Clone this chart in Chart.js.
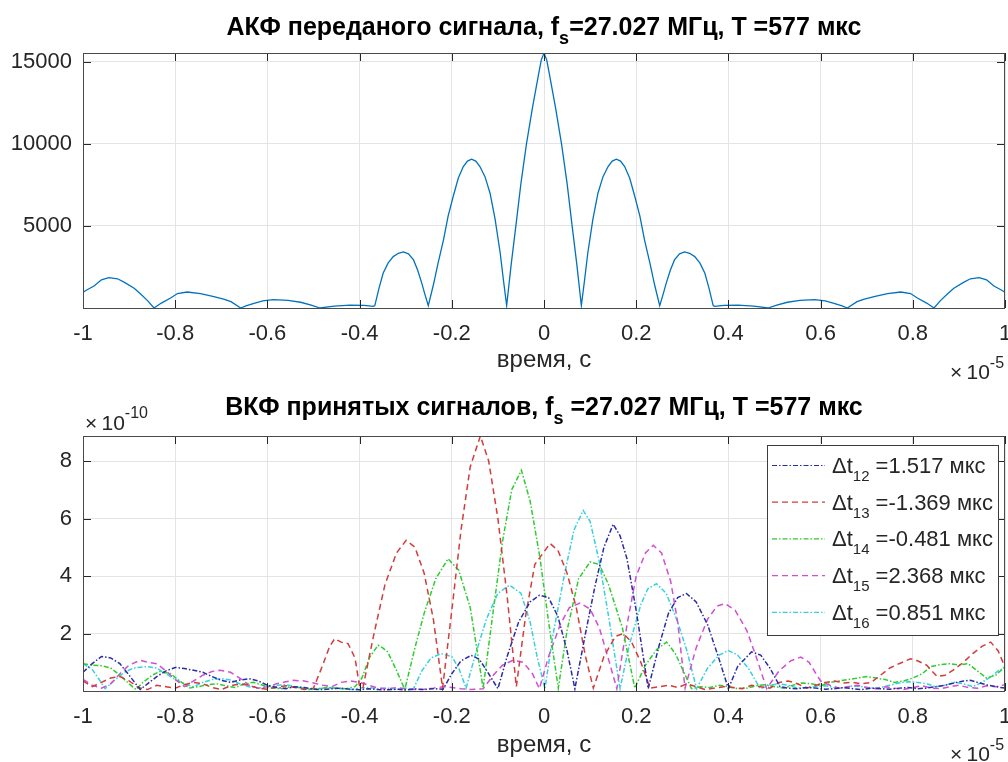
<!DOCTYPE html>
<html><head><meta charset="utf-8">
<script src="https://cdn.jsdelivr.net/npm/chart.js@4.4.1/dist/chart.umd.min.js"></script>
<style>
html,body{margin:0;padding:0;background:#fff;}
#wrap{position:relative;width:1008px;height:762px;overflow:hidden;background:#fff;}
canvas{position:absolute;left:0;}
</style></head><body>
<div id="wrap">
<canvas id="c1" width="1008" height="380" style="top:0"></canvas>
<canvas id="c2" width="1008" height="382" style="top:380px"></canvas>
</div>
<script>
// ---------- data (x in units of 1e-5 s) ----------
const xTickValues = [-1,-0.8,-0.6,-0.4,-0.2,0,0.2,0.4,0.6,0.8,1];
const xTickLabels = ['-1','-0.8','-0.6','-0.4','-0.2','0','0.2','0.4','0.6','0.8','1'];
const y1TickValues = [5000,10000,15000];
const y1TickLabels = ['5000','10000','15000'];
const y2TickValues = [2,4,6,8];            // units of 1e-10
const y2TickLabels = ['2','4','6','8'];

// АКФ (top)
const acfPts = [
[-1,957],[-0.99,1130],[-0.976,1340],[-0.96,1720],[-0.944,1850],[-0.925,1780],[-0.91,1560],[-0.889,1200],[-0.875,850],[-0.86,450],[-0.846,0],
[-0.83,300],[-0.81,610],[-0.795,880],[-0.774,975],[-0.745,870],[-0.716,690],[-0.695,540],[-0.679,385],[-0.658,0],
[-0.645,150],[-0.629,285],[-0.61,430],[-0.587,510],[-0.555,470],[-0.528,350],[-0.505,180],[-0.486,0],
[-0.455,120],[-0.421,180],[-0.39,160],[-0.37,100],[-0.367,150],[-0.358,1200],[-0.349,2115],[-0.338,2750],[-0.327,3130],[-0.316,3330],
[-0.305,3415],[-0.294,3300],[-0.283,2930],[-0.274,2300],[-0.265,1500],[-0.258,800],[-0.251,140],
[-0.24,1400],[-0.23,2700],[-0.218,4150],[-0.208,5600],[-0.197,6790],[-0.186,7900],[-0.175,8615],[-0.166,8950],[-0.157,9065],
[-0.148,8950],[-0.139,8615],[-0.128,8000],[-0.117,6990],[-0.106,5400],[-0.095,3350],[-0.088,1700],[-0.081,150],
[-0.071,2700],[-0.061,5000],[-0.05,7600],[-0.038,10000],[-0.025,12200],[-0.012,14200],[-0.006,15100],[0,15530],
[0.006,15100],[0.012,14200],[0.025,12200],[0.038,10000],[0.05,7600],[0.061,5000],[0.071,2700],[0.081,150],
[0.088,1700],[0.095,3350],[0.106,5400],[0.117,6990],[0.128,8000],[0.139,8615],[0.148,8950],[0.157,9065],[0.166,8950],
[0.175,8615],[0.186,7900],[0.197,6790],[0.208,5600],[0.218,4150],[0.23,2700],[0.24,1400],[0.251,140],
[0.258,800],[0.265,1500],[0.274,2300],[0.283,2930],[0.294,3300],[0.305,3415],[0.316,3330],[0.327,3130],[0.338,2750],
[0.349,2115],[0.358,1200],[0.367,150],[0.37,100],[0.39,160],[0.421,180],[0.455,120],[0.486,0],
[0.505,180],[0.528,350],[0.555,470],[0.587,510],[0.61,430],[0.629,285],[0.645,150],[0.658,0],
[0.679,385],[0.695,540],[0.716,690],[0.745,870],[0.774,975],[0.795,880],[0.81,610],[0.83,300],[0.846,0],
[0.86,450],[0.875,850],[0.889,1200],[0.91,1560],[0.925,1780],[0.944,1850],[0.96,1720],[0.976,1340],[0.99,1130],[1,957]];

// ВКФ (bottom), values in units of 1e-10
const t12Pts = [
[-1,0.65],[-0.98,0.95],[-0.96,1.20],[-0.94,1.15],[-0.92,0.95],[-0.9,0.55],[-0.876,0.05],[-0.86,0.25],[-0.84,0.50],[-0.82,0.70],
[-0.8,0.82],[-0.78,0.78],[-0.76,0.72],[-0.74,0.65],[-0.72,0.50],[-0.7,0.37],[-0.68,0.30],[-0.66,0.38],[-0.64,0.43],[-0.62,0.35],
[-0.6,0.20],[-0.58,0.12],[-0.56,0.08],[-0.54,0.15],[-0.52,0.12],[-0.5,0.06],[-0.48,0.05],[-0.46,0.08],[-0.44,0.10],[-0.42,0.06],
[-0.4,0.04],[-0.38,0.08],[-0.36,0.05],[-0.34,0.04],[-0.32,0.06],[-0.3,0.04],[-0.28,0.07],[-0.26,0.05],[-0.24,0.08],[-0.219,0.06],
[-0.2,0.60],[-0.18,1.05],[-0.158,1.24],[-0.14,1.10],[-0.12,0.60],[-0.1,0.08],[-0.08,1.20],[-0.055,2.40],[-0.03,3.10],[-0.01,3.33],
[0.01,3.25],[0.03,2.60],[0.05,1.40],[0.067,0.08],[0.09,2.00],[0.11,3.60],[0.13,5.00],[0.15,5.80],[0.165,5.40],[0.18,4.60],
[0.2,2.80],[0.226,0.08],[0.25,1.60],[0.27,2.70],[0.29,3.25],[0.309,3.39],[0.33,3.10],[0.355,2.30],[0.38,1.10],[0.4,0.08],
[0.42,0.85],[0.45,1.36],[0.47,1.25],[0.49,0.80],[0.512,0.15],[0.53,0.10],[0.55,0.08],[0.57,0.12],[0.59,0.10],[0.61,0.06],
[0.63,0.08],[0.65,0.12],[0.67,0.08],[0.69,0.05],[0.71,0.10],[0.73,0.08],[0.75,0.06],[0.77,0.10],[0.79,0.12],[0.81,0.08],
[0.83,0.10],[0.85,0.15],[0.87,0.20],[0.89,0.28],[0.91,0.35],[0.925,0.37],[0.94,0.30],[0.96,0.22],[0.98,0.15],[1,0.10]];

const t13Pts = [
[-1,0.35],[-0.98,0.15],[-0.96,0.30],[-0.94,0.45],[-0.92,0.50],[-0.9,0.35],[-0.88,0.12],[-0.86,0.05],[-0.84,0.20],[-0.82,0.15],
[-0.8,0.10],[-0.78,0.22],[-0.76,0.30],[-0.74,0.25],[-0.72,0.12],[-0.7,0.05],[-0.68,0.18],[-0.66,0.25],[-0.64,0.20],[-0.62,0.10],
[-0.6,0.06],[-0.58,0.14],[-0.56,0.18],[-0.54,0.12],[-0.52,0.05],[-0.5,0.10],[-0.48,0.90],[-0.465,1.55],[-0.454,1.82],[-0.44,1.70],
[-0.425,1.65],[-0.41,1.15],[-0.4,0.15],[-0.393,0.10],[-0.37,1.90],[-0.345,3.70],[-0.32,4.80],[-0.299,5.24],[-0.28,5.00],[-0.26,4.10],
[-0.24,2.50],[-0.22,0.10],[-0.2,2.80],[-0.18,5.60],[-0.16,7.80],[-0.138,8.87],[-0.12,8.00],[-0.1,6.00],[-0.08,3.30],[-0.06,0.15],
[-0.04,2.60],[-0.02,4.40],[0.013,5.13],[0.03,4.90],[0.05,4.10],[0.07,2.90],[0.09,1.20],[0.107,0.10],[0.13,1.20],[0.155,1.90],
[0.172,2.00],[0.19,1.70],[0.21,1.00],[0.23,0.10],[0.25,0.15],[0.27,0.20],[0.29,0.12],[0.31,0.25],[0.33,0.15],[0.35,0.05],
[0.37,0.10],[0.39,0.15],[0.41,0.12],[0.43,0.08],[0.45,0.20],[0.47,0.15],[0.49,0.10],[0.51,0.30],[0.53,0.35],[0.55,0.25],
[0.57,0.10],[0.59,0.20],[0.61,0.30],[0.63,0.35],[0.65,0.28],[0.67,0.30],[0.69,0.25],[0.71,0.30],[0.73,0.55],[0.75,0.80],
[0.77,0.95],[0.795,1.12],[0.81,1.05],[0.83,0.90],[0.853,0.50],[0.87,0.55],[0.89,0.75],[0.91,1.00],[0.93,1.30],[0.95,1.55],
[0.969,1.70],[0.985,1.40],[1,0.83]];

const t14Pts = [
[-1,0.95],[-0.98,0.90],[-0.96,0.88],[-0.94,0.80],[-0.92,0.55],[-0.9,0.25],[-0.885,0.05],[-0.87,0.30],[-0.85,0.55],[-0.833,0.68],
[-0.81,0.60],[-0.79,0.35],[-0.77,0.10],[-0.75,0.15],[-0.73,0.22],[-0.71,0.25],[-0.69,0.18],[-0.67,0.12],[-0.65,0.25],[-0.63,0.30],
[-0.61,0.20],[-0.59,0.10],[-0.57,0.08],[-0.55,0.15],[-0.53,0.12],[-0.51,0.05],[-0.49,0.08],[-0.47,0.12],[-0.45,0.10],[-0.43,0.08],
[-0.41,0.15],[-0.395,0.45],[-0.378,1.18],[-0.36,1.59],[-0.35,1.50],[-0.339,1.36],[-0.32,0.72],[-0.302,0.05],[-0.28,1.50],[-0.26,2.70],
[-0.235,3.90],[-0.208,4.60],[-0.185,4.20],[-0.16,2.90],[-0.132,0.10],[-0.11,2.80],[-0.09,5.20],[-0.07,7.00],[-0.049,7.68],[-0.03,6.60],
[-0.009,4.66],[0.01,2.40],[0.031,0.10],[0.05,2.10],[0.075,3.90],[0.1,4.49],[0.12,4.40],[0.14,3.70],[0.17,2.20],[0.197,0.10],
[0.22,0.90],[0.245,1.45],[0.266,1.70],[0.285,1.30],[0.305,0.60],[0.32,0.08],[0.34,0.15],[0.36,0.12],[0.38,0.20],[0.4,0.15],
[0.42,0.08],[0.44,0.10],[0.46,0.18],[0.48,0.22],[0.5,0.15],[0.52,0.10],[0.54,0.20],[0.56,0.28],[0.58,0.25],[0.6,0.18],
[0.62,0.30],[0.64,0.35],[0.66,0.40],[0.68,0.45],[0.7,0.50],[0.72,0.45],[0.74,0.40],[0.76,0.30],[0.78,0.35],[0.8,0.45],
[0.82,0.60],[0.84,0.85],[0.86,0.92],[0.88,0.95],[0.9,0.90],[0.92,0.95],[0.94,0.70],[0.96,0.45],[0.98,0.55],[1,0.85]];

const t15Pts = [
[-1,0.40],[-0.98,0.20],[-0.96,0.10],[-0.94,0.25],[-0.92,0.60],[-0.9,0.90],[-0.876,1.07],[-0.86,1.00],[-0.84,0.95],[-0.82,0.70],
[-0.8,0.40],[-0.78,0.15],[-0.76,0.35],[-0.74,0.55],[-0.72,0.68],[-0.703,0.72],[-0.68,0.65],[-0.66,0.45],[-0.64,0.20],[-0.62,0.10],
[-0.6,0.15],[-0.58,0.25],[-0.56,0.32],[-0.544,0.37],[-0.52,0.35],[-0.5,0.28],[-0.48,0.20],[-0.46,0.15],[-0.44,0.30],[-0.42,0.35],
[-0.4,0.30],[-0.38,0.20],[-0.36,0.10],[-0.34,0.08],[-0.32,0.12],[-0.3,0.08],[-0.28,0.05],[-0.26,0.06],[-0.24,0.10],[-0.22,0.15],
[-0.2,0.12],[-0.18,0.08],[-0.16,0.05],[-0.132,0.08],[-0.11,0.55],[-0.09,0.90],[-0.067,1.07],[-0.045,1.00],[-0.025,0.60],[-0.01,0.08],
[0.01,1.20],[0.035,2.30],[0.055,2.90],[0.078,3.06],[0.1,2.85],[0.12,2.20],[0.14,1.10],[0.158,0.08],[0.18,2.30],[0.2,4.00],
[0.22,4.80],[0.237,5.07],[0.255,4.80],[0.275,3.80],[0.29,2.40],[0.306,0.10],[0.33,1.50],[0.355,2.50],[0.375,2.95],[0.393,3.04],
[0.415,2.80],[0.44,2.10],[0.46,1.20],[0.483,0.08],[0.51,0.70],[0.535,1.05],[0.557,1.18],[0.575,1.00],[0.59,0.60],[0.6,0.35],
[0.62,0.20],[0.64,0.10],[0.66,0.15],[0.68,0.20],[0.7,0.12],[0.72,0.08],[0.74,0.15],[0.76,0.10],[0.78,0.05],[0.8,0.12],
[0.82,0.18],[0.84,0.10],[0.86,0.08],[0.88,0.15],[0.9,0.20],[0.92,0.12],[0.94,0.10],[0.96,0.18],[0.98,0.15],[1,0.22]];

const t16Pts = [
[-1,0.95],[-0.98,0.75],[-0.965,0.40],[-0.952,0.08],[-0.93,0.40],[-0.91,0.65],[-0.89,0.80],[-0.876,0.83],[-0.86,0.85],[-0.84,0.80],
[-0.82,0.60],[-0.8,0.40],[-0.78,0.25],[-0.76,0.15],[-0.74,0.30],[-0.72,0.40],[-0.7,0.43],[-0.68,0.38],[-0.66,0.25],[-0.64,0.15],
[-0.62,0.10],[-0.6,0.15],[-0.58,0.20],[-0.56,0.22],[-0.54,0.15],[-0.52,0.08],[-0.5,0.05],[-0.48,0.10],[-0.46,0.12],[-0.44,0.08],
[-0.42,0.05],[-0.4,0.10],[-0.38,0.12],[-0.36,0.08],[-0.34,0.10],[-0.32,0.06],[-0.3,0.10],[-0.284,0.05],[-0.265,0.70],[-0.245,1.15],
[-0.223,1.30],[-0.2,1.20],[-0.185,0.80],[-0.169,0.10],[-0.15,1.20],[-0.125,2.50],[-0.1,3.40],[-0.075,3.68],[-0.05,3.40],[-0.03,2.40],
[-0.015,1.20],[0.002,0.08],[0.02,2.00],[0.045,4.10],[0.065,5.60],[0.085,6.28],[0.1,5.90],[0.12,4.50],[0.14,2.60],[0.165,0.08],
[0.185,1.60],[0.21,3.00],[0.225,3.55],[0.244,3.73],[0.265,3.40],[0.29,2.40],[0.31,1.40],[0.331,0.08],[0.355,0.80],[0.38,1.25],
[0.4,1.41],[0.42,1.25],[0.445,0.75],[0.469,0.08],[0.49,0.20],[0.51,0.25],[0.53,0.20],[0.55,0.10],[0.57,0.12],[0.59,0.15],
[0.61,0.18],[0.63,0.12],[0.65,0.10],[0.67,0.18],[0.69,0.15],[0.71,0.10],[0.73,0.12],[0.75,0.20],[0.77,0.28],[0.79,0.32],
[0.81,0.30],[0.83,0.25],[0.85,0.15],[0.87,0.20],[0.89,0.30],[0.91,0.25],[0.93,0.15],[0.95,0.30],[0.97,0.50],[0.985,0.70],[1,0.80]];

const legendSubs = ['12','13','14','15','16'];
const legendVals = [' =1.517 мкс',' =-1.369 мкс',' =-0.481 мкс',' =2.368 мкс',' =0.851 мкс'];
const title1 = ['АКФ переданого сигнала, f','s','=27.027 МГц, T =577 мкс'];
const title2 = ['ВКФ принятых сигналов, f','s',' =27.027 МГц, T =577 мкс'];
const xAxisTitle = 'время, с';

// ---------- helpers ----------
const FF = '"Liberation Sans", Arial, Helvetica, sans-serif';
const TXT = '#262626';
const toXY = pts => pts.map(p => ({x:p[0], y:p[1]}));

function drawRich(ctx, parts, x, y, align){
  let w = 0;
  parts.forEach(p => { ctx.font = p.font; w += ctx.measureText(p.t).width; });
  let cx = align === 'center' ? x - w/2 : x;
  parts.forEach(p => { ctx.font = p.font; ctx.fillText(p.t, cx, y + (p.dy||0)); cx += ctx.measureText(p.t).width; });
}

function frameAndTicks(chart){
  const ctx = chart.ctx, a = chart.chartArea, xs = chart.scales.x, ys = chart.scales.y;
  ctx.save();
  ctx.strokeStyle = '#262626'; ctx.lineWidth = 1;
  ctx.beginPath();
  xs.ticks.forEach(t => { const p = Math.round(xs.getPixelForValue(t.value)) + 0.5;
    ctx.moveTo(p, a.top); ctx.lineTo(p, a.top + 8); ctx.moveTo(p, a.bottom); ctx.lineTo(p, a.bottom - 8); });
  ys.ticks.forEach(t => { const p = Math.round(ys.getPixelForValue(t.value)) + 0.5;
    ctx.moveTo(a.left, p); ctx.lineTo(a.left + 8, p); ctx.moveTo(a.right, p); ctx.lineTo(a.right - 8, p); });
  ctx.stroke();
  ctx.strokeStyle = '#4a4a4a';
  ctx.strokeRect(Math.round(a.left) + 0.5, Math.round(a.top) + 0.5, Math.round(a.right - a.left) - 1, Math.round(a.bottom - a.top));
  ctx.restore();
}

function xExponent(ctx, x, y){
  ctx.fillStyle = TXT; ctx.textBaseline = 'alphabetic';
  drawRich(ctx, [{t:'\u00d7\u200910', font:'21px '+FF}, {t:'-5', font:'16px '+FF, dy:-11}], x, y, 'left');
}

function commonScales(yMin, yMax, yVals, yLabels, xHeight, titlePadBottom){
  return {
    x: { type:'linear', min:-1, max:1,
      afterBuildTicks: s => { s.ticks = xTickValues.map(v => ({value:v})); },
      afterFit: s => { s.height = xHeight; s.paddingLeft = 0; s.paddingRight = 0; },
      ticks: { callback: (v, i) => xTickLabels[i], font:{family:FF, size:22}, color:TXT, padding:13, maxRotation:0, autoSkip:false },
      grid: { color:'#e4e4e4', lineWidth:1, drawTicks:false },
      border: { display:false },
      title: { display:true, text:xAxisTitle, font:{family:FF, size:24, lineHeight:1}, color:TXT, padding:{top:0, bottom:titlePadBottom} }
    },
    y: { type:'linear', min:yMin, max:yMax,
      afterBuildTicks: s => { s.ticks = yVals.map(v => ({value:v})); },
      afterFit: s => { s.width = 83; s.paddingTop = 0; s.paddingBottom = 0; },
      ticks: { callback: (v, i) => yLabels[i], font:{family:FF, size:22}, color:TXT, padding:11 },
      grid: { color:'#e4e4e4', lineWidth:1, drawTicks:false },
      border: { display:false }
    }
  };
}

function drawTitle(ctx, chart, parts){
  const a = chart.chartArea;
  ctx.fillStyle = '#000'; ctx.textBaseline = 'alphabetic';
  drawRich(ctx, [{t:parts[0], font:'bold 25px '+FF}, {t:parts[1], font:'bold 18px '+FF, dy:9}, {t:parts[2], font:'bold 25px '+FF}], (a.left + a.right)/2, 35, 'center');
}

// ---------- top chart ----------
new Chart(document.getElementById('c1'), {
  type:'scatter',
  data:{ datasets:[{ data: toXY(acfPts), showLine:true, borderColor:'#0072BD', borderWidth:1.3, pointRadius:0, tension:0 }]},
  options:{
    responsive:false, animation:false, events:[],
    layout:{ padding:{ left:0, right:3, top:53, bottom:0 } },
    plugins:{ legend:{display:false}, tooltip:{enabled:false} },
    scales: commonScales(0, 15530, y1TickValues, y1TickLabels, 72, 8)
  },
  plugins:[{ id:'decor1', afterDraw(chart){
    const ctx = chart.ctx;
    frameAndTicks(chart);
    ctx.save();
    drawTitle(ctx, chart, title1);
    xExponent(ctx, 950, 379);
    ctx.restore();
  }}]
});

// ---------- bottom chart ----------
const seriesStyles = [
  { pts:t12Pts, color:'#2b2ba6', dash:[5,2,1.5,2] },
  { pts:t13Pts, color:'#d43c3c', dash:[6,4] },
  { pts:t14Pts, color:'#2ecc2e', dash:[5,2,1.5,2] },
  { pts:t15Pts, color:'#d24ed2', dash:[6,4] },
  { pts:t16Pts, color:'#36d0e0', dash:[5,2,1.5,2] }
];
new Chart(document.getElementById('c2'), {
  type:'scatter',
  data:{ datasets: seriesStyles.map(s => ({ data: toXY(s.pts), showLine:true, borderColor:s.color, borderDash:s.dash, borderWidth:1.5, pointRadius:0, tension:0 })) },
  options:{
    responsive:false, animation:false, events:[],
    layout:{ padding:{ left:0, right:3, top:56, bottom:0 } },
    plugins:{ legend:{display:false}, tooltip:{enabled:false} },
    scales: commonScales(0, 8.87, y2TickValues, y2TickLabels, 71, 5)
  },
  plugins:[{ id:'decor2', afterDraw(chart){
    const ctx = chart.ctx;
    frameAndTicks(chart);
    ctx.save();
    drawTitle(ctx, chart, title2);
    // y exponent
    ctx.fillStyle = TXT;
    drawRich(ctx, [{t:'\u00d7\u200910', font:'21px '+FF}, {t:'-10', font:'16px '+FF, dy:-12}], 85, 50, 'left');
    xExponent(ctx, 950, 381);
    // legend
    const L = 767, T = 65, W = 231, H = 190;
    ctx.fillStyle = '#fff'; ctx.fillRect(L, T, W, H);
    ctx.strokeStyle = '#3c3c3c'; ctx.lineWidth = 1; ctx.strokeRect(L + 0.5, T + 0.5, W, H);
    chart.data.datasets.forEach((ds, i) => {
      const yy = T + 20 + i * 36.7;
      ctx.save(); ctx.strokeStyle = ds.borderColor; ctx.lineWidth = 1.2; ctx.setLineDash(ds.borderDash);
      ctx.beginPath(); ctx.moveTo(L + 5, yy + 0.5); ctx.lineTo(L + 58, yy + 0.5); ctx.stroke(); ctx.restore();
      ctx.fillStyle = TXT;
      drawRich(ctx, [{t:'\u0394t', font:'22px '+FF}, {t:legendSubs[i], font:'15px '+FF, dy:8}, {t:legendVals[i], font:'22px '+FF}], L + 65, yy + 8, 'left');
    });
    ctx.restore();
  }}]
});
</script>
</body></html>
